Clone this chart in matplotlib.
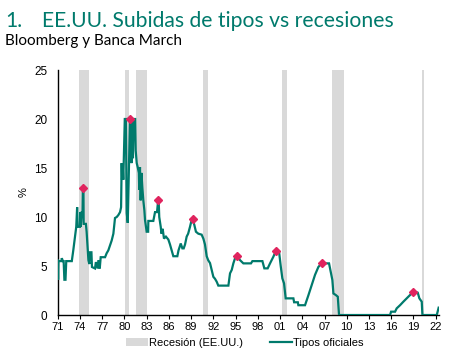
import matplotlib
matplotlib.use("Agg")
import matplotlib.pyplot as plt
from matplotlib.patches import Patch
from matplotlib.lines import Line2D

# Fed funds (tipos oficiales): decimal year, %
rate_t = [1971.00, 1971.05, 1971.10, 1971.50, 1971.55, 1971.70, 1971.80, 1971.90, 1972.05, 1972.15,
          1972.90, 1973.10, 1973.33, 1973.50, 1973.62, 1973.70, 1974.00, 1974.05, 1974.10, 1974.25,
          1974.35, 1974.40, 1974.47, 1974.50, 1974.80, 1974.90, 1975.05, 1975.14, 1975.27, 1975.33,
          1975.55, 1975.62, 1976.03, 1976.15, 1976.30, 1976.39, 1976.53, 1976.67, 1976.80, 1977.39,
          1977.60, 1977.83, 1978.06, 1978.28, 1978.51, 1978.73, 1978.96, 1979.18, 1979.41, 1979.55,
          1979.63, 1979.68, 1979.75, 1979.85, 1980.05, 1980.20, 1980.31, 1980.45, 1980.53, 1980.62,
          1980.75, 1980.85, 1980.95, 1981.05, 1981.15, 1981.25, 1981.45, 1981.52, 1981.66, 1981.79,
          1981.95, 1982.00, 1982.10, 1982.19, 1982.30, 1982.42, 1982.55, 1982.69, 1982.78, 1983.00,
          1983.20, 1983.23, 1983.90, 1984.13, 1984.40, 1984.55, 1984.62, 1984.70, 1984.90, 1985.00,
          1985.16, 1985.34, 1985.60, 1985.93, 1986.15, 1986.38, 1986.60, 1987.14, 1987.30, 1987.60,
          1987.82, 1988.00, 1988.18, 1988.40, 1988.60, 1988.85, 1989.07, 1989.20, 1989.43, 1989.65,
          1989.97, 1990.42, 1990.65, 1990.87, 1991.10, 1991.30, 1991.55, 1991.77, 1992.00, 1992.22,
          1992.45, 1992.67, 1994.03, 1994.25, 1994.48, 1994.70, 1994.93, 1995.10, 1995.25, 1995.60,
          1996.05, 1997.08, 1997.27, 1998.62, 1998.88, 1999.33, 1999.65, 2000.10, 2000.41, 2000.86,
          2001.09, 2001.31, 2001.54, 2001.76, 2002.80, 2002.90, 2003.40, 2003.47, 2004.37, 2004.82,
          2005.27, 2005.72, 2006.17, 2006.60, 2007.61, 2007.88, 2008.06, 2008.20, 2008.52, 2008.79,
          2008.96, 2015.85, 2015.98, 2016.52, 2016.74, 2017.19, 2017.64, 2018.09, 2018.54, 2018.99,
          2019.58, 2019.80, 2020.12, 2020.21, 2022.15, 2022.40]
rate_v = [5.6, 3.6, 5.5, 5.5, 5.8, 5.5, 5.5, 3.6, 3.6, 5.5,
          5.5, 6.6, 8.0, 9.0, 11.0, 9.0, 9.0, 10.5, 9.0, 10.5,
          10.5, 13.0, 13.0, 9.3, 9.3, 8.5, 6.6, 5.6, 5.2, 6.4,
          6.4, 4.9, 4.75, 5.4, 5.0, 4.75, 5.6, 4.75, 5.9, 5.9,
          6.3, 6.6, 7.1, 7.6, 8.3, 9.9, 10.0, 10.2, 10.5, 11.0,
          15.5, 13.8, 15.5, 13.8, 20.0, 20.0, 10.4, 9.4, 12.1, 15.5,
          20.0, 20.0, 15.5, 20.0, 16.0, 20.0, 20.0, 16.8, 15.5, 15.1,
          14.5, 12.8, 15.1, 11.7, 14.5, 13.0, 11.7, 10.7, 9.7, 8.5,
          8.5, 9.6, 9.6, 10.5, 10.5, 11.7, 11.7, 10.0, 9.0, 8.3,
          8.8, 7.8, 8.0, 7.7, 7.2, 6.6, 6.0, 6.0, 6.6, 7.3,
          6.8, 6.8, 7.2, 8.0, 8.3, 9.0, 9.7, 9.8, 9.2, 8.5,
          8.3, 8.2, 7.8, 7.2, 6.0, 5.6, 5.3, 4.6, 3.9, 3.7,
          3.4, 3.0, 3.0, 4.25, 4.6, 5.27, 5.8, 6.0, 6.0, 5.6,
          5.27, 5.27, 5.5, 5.5, 4.76, 4.76, 5.27, 5.95, 6.5, 6.5,
          5.0, 3.74, 3.23, 1.7, 1.7, 1.3, 1.3, 1.0, 1.0, 2.0,
          3.06, 4.1, 4.9, 5.27, 5.27, 4.25, 3.57, 2.2, 2.04, 1.87,
          0.0, 0.0, 0.34, 0.34, 0.68, 1.0, 1.36, 1.7, 2.04, 2.38,
          2.28, 1.7, 1.36, 0.0, 0.0, 0.75]

# Peaks of each hiking cycle
peak_t = [1974.45, 1980.80, 1984.58, 1989.20, 1995.18, 2000.41, 2006.70, 2018.99]
peak_v = [13.0, 20.0, 11.7, 9.8, 6.0, 6.5, 5.27, 2.3]

# Recessions (EE.UU.)
rec_start = [1973.87, 1980.04, 1981.57, 1990.61, 2001.27, 2008.02, 2020.20]
rec_end = [1975.26, 1980.58, 1983.01, 1991.32, 2001.98, 2009.60, 2020.43]

xticks = list(range(1971, 2023, 3))
xticklabels = [f"{y % 100:02d}" for y in xticks]
yticks = [0, 5, 10, 15, 20, 25]

TEAL = "#007A6C"
GREY = "#D9D9D9"
RED = "#E0245E"

fig = plt.figure(figsize=(4.57, 3.57), dpi=100)
ax = fig.add_axes([0.1263, 0.1176, 0.8345, 0.6863])

for s, e in zip(rec_start, rec_end):
    ax.axvspan(s, e, color=GREY, lw=0, zorder=1)

ax.plot(rate_t, rate_v, color=TEAL, lw=1.6, zorder=3, solid_joinstyle="miter")
ax.plot(peak_t, peak_v, ls="none", marker="D", ms=4.2, color=RED, mec=RED, zorder=4)

ax.set_xlim(1971, 2022.46)
ax.set_ylim(0, 25)
ax.set_xticks(xticks)
ax.set_xticklabels(xticklabels)
ax.set_yticks(yticks)
for lab in ax.get_xticklabels():
    lab.set_fontfamily("Liberation Sans")
    lab.set_fontsize(8)
for lab in ax.get_yticklabels():
    lab.set_fontfamily("Liberation Sans")
    lab.set_fontsize(8.5)
ax.tick_params(axis="x", length=3, width=0.8, pad=2)
ax.tick_params(axis="y", length=0, pad=7.5)
for sp in ["top", "right"]:
    ax.spines[sp].set_visible(False)
ax.spines["left"].set_linewidth(1.0)
ax.spines["bottom"].set_linewidth(1.0)
ax.set_ylabel("%", family="Liberation Sans", fontsize=8, labelpad=4)

fig.text(0.011, 0.925, "1.", color=TEAL, family="Lato", fontsize=15.2, va="baseline")
fig.text(0.092, 0.925, "EE.UU. Subidas de tipos vs recesiones", color=TEAL, family="Lato",
         fontsize=15.2, va="baseline")
fig.text(0.011, 0.874, "Bloomberg y Banca March", color="black", family="Lato", fontsize=11,
         va="baseline")

handles = [Patch(facecolor=GREY, edgecolor="none", label="Recesión (EE.UU.)"),
           Line2D([], [], color=TEAL, lw=1.6, label="Tipos oficiales")]
fig.legend(handles=handles, loc="center", bbox_to_anchor=(0.535, 0.04), ncol=2, frameon=False,
           prop={"family": "Liberation Sans", "size": 8}, handlelength=2.0, handleheight=0.7,
           handletextpad=0.1, columnspacing=2.4)

fig.savefig("out.png", dpi=100)
